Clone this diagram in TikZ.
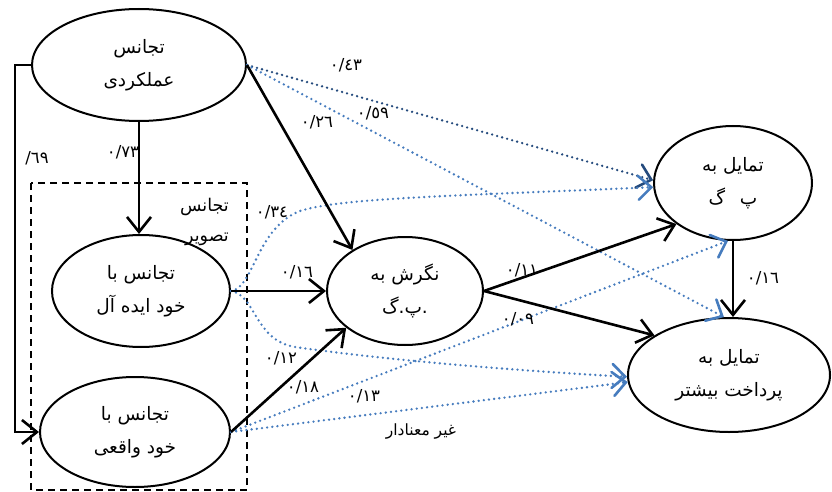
\documentclass[tikz,border=0pt]{standalone}
\usepackage{fontspec}
\usetikzlibrary{arrows.meta,shapes.geometric}
\newfontfamily\fa[Script=Arabic]{DejaVu Sans}
\TeXXeTstate=1
\definecolor{dkblue}{RGB}{36,74,125}
\definecolor{ltblue}{RGB}{70,124,190}
\newcommand{\RL}[1]{\beginR #1\endR}
\begin{document}
\begin{tikzpicture}[x=1pt,y=-1pt,
  ell/.style={ellipse,draw,line width=2pt,inner sep=0pt,align=center,
    font=\fa\fontsize{18.5}{33}\selectfont},
  lbl/.style={font=\fa\fontsize{16.5}{17}\selectfont,inner sep=1pt},
  blk/.style={line width=2.6pt,-{Straight Barb[length=15pt,width=24pt]}},
  dotd/.style={draw=dkblue,line width=2.6pt,line cap=round,dash pattern=on 0pt off 5.2pt,
    -{Straight Barb[length=13pt,width=24pt,line cap=round]}},
  dotl/.style={dotd,draw=ltblue}
]
\fill[white] (0,0) rectangle (832,492);
\useasboundingbox (0,0) rectangle (832,492);

% group box
\draw[line width=2pt,dash pattern=on 7pt off 5pt] (31,183) rectangle (247,490);
\node[font=\fa\fontsize{17.5}{30}\selectfont,align=right,anchor=north east,inner sep=0pt] (grp) at (229,198)
  {\RL{تجانس}\\ \RL{تصویر}};

% ellipses
\node[ell,minimum width=214,minimum height=112] (A) at (139,65) {\RL{تجانس}\\ \RL{عملکردی}};
\node[ell,minimum width=178,minimum height=112] (B) at (141,291) {\RL{تجانس با}\\ \RL{خود ایده آل}};
\node[ell,minimum width=190,minimum height=110] (C) at (135,432) {\RL{تجانس با}\\ \RL{خود واقعی}};
\node[ell,minimum width=156,minimum height=108] (D) at (405,291) {\RL{نگرش به}\\ \mbox{گ}\mbox{.}\mbox{پ}\mbox{.}};
\node[ell,minimum width=158,minimum height=114] (E) at (733,183) {\RL{تمایل به}\\ \mbox{گ}\hspace{0.8em}\mbox{پ}};
\node[ell,minimum width=202,minimum height=114] (F) at (729,375) {\RL{تمایل به}\\ \RL{پرداخت بیشتر}};

% dotted paths
\draw[dotd] (A.east) -- (E.178);
\draw[dotl] (A.east) -- (F.95);
\draw[dotl] (B.east) .. controls (254,288) and (256,228) .. (300,211)
  .. controls (340,198) and (450,196) .. (E.183);
\draw[dotl] (B.east) .. controls (256,295) and (254,340) .. (295,347)
  .. controls (400,362) and (540,372) .. (F.181);
\draw[dotl] (C.east) -- (E.265);
\draw[dotl] (C.east) -- (F.184);

% solid paths
\coordinate (fb) at (15,65);
\draw[blk] (A.west) -- (fb) |- (C.west);
\draw[blk] (A.south) -- (A.south |- B.north);
\draw[blk] (A.east) -- (D.142);
\draw[blk] (B.east) -- (D.west);
\draw[blk] (C.east) -- (D.212);
\draw[blk] (D.east) -- (E.216);
\draw[blk] (D.east) -- (F.152);
\draw[blk] (E.south) -- (E.south |- F.north);

% labels
\node[lbl] (l43) at (346,65) {٠/٤٣};
\node[lbl] (l59) at (373,113) {٠/٥٩};
\node[lbl] (l26) at (317,122) {٠/٢٦};
\node[lbl] (l69) at (37,158) {\mbox{/}\mbox{٦٩}};
\node[lbl] (l73) at (123,152) {٠/٧٣};
\node[lbl] (l34) at (272,212) {٠/٣٤};
\node[lbl] (l16a) at (297,272) {٠/١٦};
\node[lbl] (l12) at (281,358) {٠/١٢};
\node[lbl] (l18) at (303,387) {٠/١٨};
\node[lbl] (l13) at (364,396) {٠/١٣};
\node[lbl] (l11) at (522,270) {٠/١١};
\node[lbl] (l09) at (518,319) {٠/٠٩};
\node[lbl] (l16b) at (763,278) {٠/١٦};
\node[font=\fa\fontsize{15.5}{16}\selectfont,inner sep=1pt] (ns) at (421,431) {\RL{غیر معنادار}};
\end{tikzpicture}
\end{document}
